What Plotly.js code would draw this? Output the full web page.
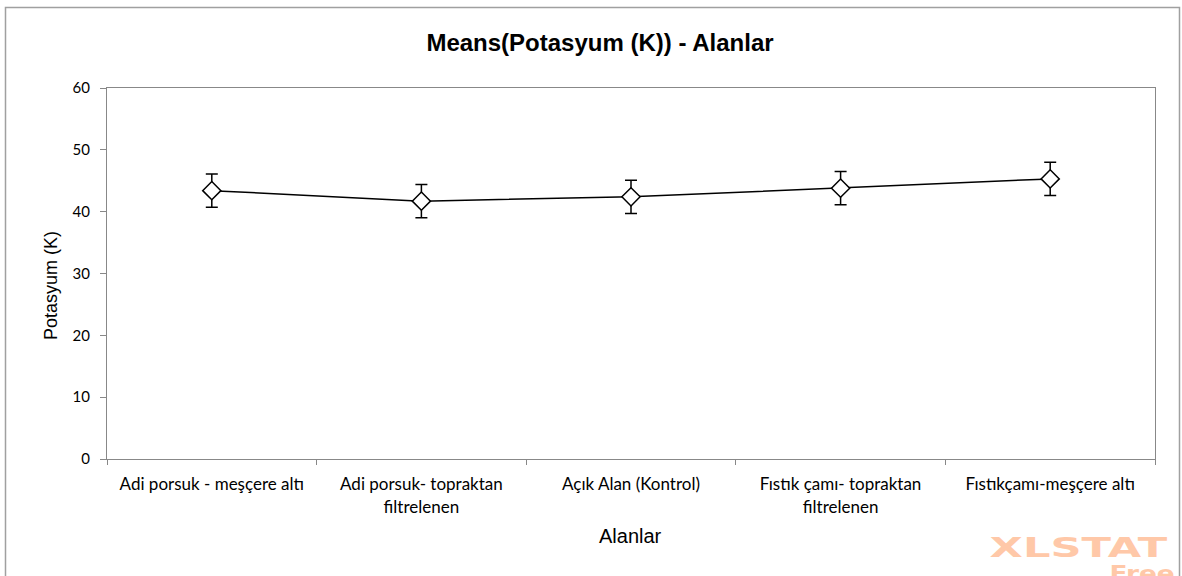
<!DOCTYPE html>
<html>
<head>
<meta charset="utf-8">
<script src="https://cdn.plot.ly/plotly-3.0.1.min.js"></script>
<style>html,body{margin:0;padding:0;background:#fff;}#chart{width:1182px;height:576px;}</style>
</head>
<body>
<div id="chart"></div>
<script>
const categories = [
  "Adi porsuk - meşçere altı",
  "Adi porsuk- topraktan<br>filtrelenen",
  "Açık Alan (Kontrol)",
  "Fıstık çamı- topraktan<br>filtrelenen",
  "Fıstıkçamı-meşçere altı"
];
const means = [43.4, 41.7, 42.4, 43.8, 45.3];
const errors = [2.7, 2.7, 2.7, 2.7, 2.7];
const yTicks = [0, 10, 20, 30, 40, 50, 60];

const L = 107, R = 27, T = 88, B = 117, W = 1182, H = 576;
const pw = W - L - R, ph = H - T - B;
const px = v => (v - L) / pw;
const py = v => (H - B - v) / ph;

const trace = {
  type: 'scatter',
  mode: 'lines+markers',
  x: categories,
  y: means,
  line: {color: '#000', width: 1.5},
  marker: {symbol: 'diamond', size: 14, color: '#fff', line: {color: '#000', width: 1.5}},
  error_y: {type: 'data', array: errors, visible: true, color: '#000', thickness: 1.5, width: 6},
  hoverinfo: 'none'
};

const layout = {
  width: W, height: H,
  margin: {l: L, r: R, t: T, b: B},
  paper_bgcolor: '#fff', plot_bgcolor: '#fff',
  showlegend: false,
  title: {text: '<b>Means(Potasyum (K)) - Alanlar</b>', xref: 'container', x: 600 / W, xanchor: 'center',
          yref: 'container', y: 1 - 43 / H, yanchor: 'middle',
          font: {family: 'Liberation Sans, Arial, sans-serif', size: 24, color: '#000'}},
  xaxis: {
    type: 'category', tickson: 'boundaries', ticks: 'outside', ticklen: 5, tickcolor: '#888',
    showline: true, linecolor: '#888', linewidth: 1, mirror: true, showgrid: false, zeroline: false,
    range: [-0.5, 4.5], ticklabelstandoff: 10,
    tickfont: {family: 'Lato, Open Sans, sans-serif', size: 17, color: '#000'}
  },
  yaxis: {
    range: [0, 60], tickvals: yTicks, ticks: 'outside', ticklen: 6, tickcolor: '#888',
    showline: true, linecolor: '#888', linewidth: 1, mirror: true, showgrid: false, zeroline: false,
    ticklabelstandoff: 7,
    tickfont: {family: 'Lato, Open Sans, sans-serif', size: 15, color: '#000'}
  },
  shapes: [
    {type: 'rect', xref: 'paper', yref: 'paper', x0: px(5.5), x1: px(1179.5), y0: py(7.5), y1: py(590),
     line: {color: '#a0a0a0', width: 1.5}, fillcolor: 'rgba(0,0,0,0)', layer: 'below'}
  ],
  annotations: [
    {text: 'Potasyum (K)', xref: 'paper', yref: 'paper', x: px(51), y: py(286), textangle: -90,
     xanchor: 'center', yanchor: 'middle', showarrow: false,
     font: {family: 'Liberation Sans, Arial, sans-serif', size: 18, color: '#000'}},
    {text: 'Alanlar', xref: 'paper', yref: 'paper', x: px(630), y: py(536),
     xanchor: 'center', yanchor: 'middle', showarrow: false,
     font: {family: 'Liberation Sans, Arial, sans-serif', size: 20, color: '#000'}},
    {text: '<b>XLSTAT</b>', xref: 'paper', yref: 'paper', x: px(1079), y: py(547), xanchor: 'center', yanchor: 'middle',
     showarrow: false, font: {family: 'DejaVu Sans, sans-serif', size: 27, color: '#ffc8a8'}},
    {text: '<b>Free</b>', xref: 'paper', yref: 'paper', x: px(1142), y: py(573), xanchor: 'center', yanchor: 'middle',
     showarrow: false, font: {family: 'DejaVu Sans, sans-serif', size: 22, color: '#ffc8a8'}}
  ]
};

Plotly.newPlot('chart', [trace], layout, {staticPlot: true, displayModeBar: false}).then(function () {
  const texts = document.querySelectorAll('.annotation-text');
  texts.forEach(function (t) {
    const s = t.textContent;
    let k = 0;
    if (s === 'XLSTAT') k = 1.6;
    if (s === 'Free') k = 1.2;
    if (k) {
      t.style.transformBox = 'fill-box';
      t.style.transformOrigin = 'center';
      t.style.transform = 'scaleX(' + k + ')';
    }
  });
});
</script>
</body>
</html>
